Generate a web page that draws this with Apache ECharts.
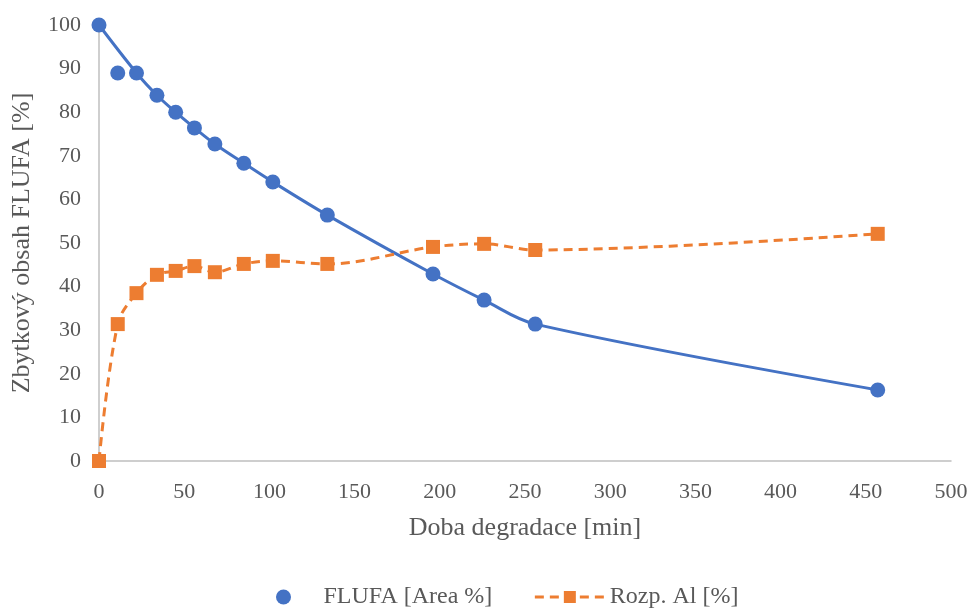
<!DOCTYPE html>
<html>
<head>
<meta charset="utf-8">
<script src="https://cdn.jsdelivr.net/npm/echarts@6/dist/echarts.min.js"></script>
<style>
  html, body { margin: 0; padding: 0; background: #fff; }
  #chart { width: 976px; height: 608px; }
</style>
</head>
<body>
<div id="chart"></div>
<script>
// Degradation time [min]
const time = [0, 11, 22, 34, 45, 56, 68, 85, 102, 134, 196, 226, 256, 457];
// Residual FLUFA content [Area %]
const flufa = [100, 89.0, 89.0, 83.9, 80.0, 76.4, 72.7, 68.3, 64.0, 56.4, 42.9, 36.9, 31.4, 16.3];
// Dissolved aluminium [%]
const rozpAl = [0, 31.4, 38.5, 42.7, 43.6, 44.7, 43.3, 45.2, 45.9, 45.2, 49.1, 49.8, 48.4, 52.1];
// FLUFA points left out of the smoothed trend curve
const trendSkip = [1];

const xTicks = [0, 50, 100, 150, 200, 250, 300, 350, 400, 450, 500];
const yTicks = [0, 10, 20, 30, 40, 50, 60, 70, 80, 90, 100];

const blue = '#4472c4';
const orange = '#ed7d31';
const textCol = '#595959';
const font = '"Liberation Serif", "Times New Roman", serif';

const flufaPts = time.map((t, i) => [t, flufa[i]]);
const flufaTrend = flufaPts.filter((p, i) => !trendSkip.includes(i));
const alPts = time.map((t, i) => [t, rozpAl[i]]);

const chart = echarts.init(document.getElementById('chart'));
chart.setOption({
  animation: false,
  textStyle: { fontFamily: font, color: textCol },
  grid: { left: 99, right: 25, top: 25, bottom: 147 },
  xAxis: {
    type: 'value',
    min: xTicks[0], max: xTicks[xTicks.length - 1], interval: 50,
    name: 'Doba degradace [min]',
    nameLocation: 'middle', nameGap: 54,
    nameTextStyle: { fontSize: 26, color: textCol, fontFamily: font },
    axisLine: { show: true, lineStyle: { color: '#bfbfbf', width: 1.5 } },
    axisTick: { show: false },
    splitLine: { show: false },
    axisLabel: { fontSize: 22, color: textCol, margin: 20, fontFamily: font }
  },
  yAxis: {
    type: 'value',
    min: yTicks[0], max: yTicks[yTicks.length - 1], interval: 10,
    name: 'Zbytkový obsah FLUFA [%]',
    nameLocation: 'middle', nameGap: 64,
    nameTextStyle: { fontSize: 26, color: textCol, fontFamily: font },
    axisLine: { show: true, lineStyle: { color: '#bfbfbf', width: 1.5 } },
    axisTick: { show: false },
    splitLine: { show: false },
    axisLabel: { fontSize: 22, color: textCol, margin: 18, fontFamily: font }
  },
  legend: {
    top: 580, left: 271,
    itemGap: 41,
    itemWidth: 70, itemHeight: 15,
    textStyle: { fontSize: 24, color: textCol, fontFamily: font },
    lineStyle: { width: 3, type: [9, 6] },
    data: [
      { name: 'FLUFA [Area %]', icon: 'circle' },
      { name: 'Rozp. Al [%]' }
    ]
  },
  series: [
    {
      name: 'FLUFA trend',
      type: 'line',
      data: flufaTrend,
      smooth: 0.35,
      showSymbol: false,
      symbol: 'none',
      lineStyle: { color: blue, width: 3 },
      z: 2
    },
    {
      name: 'Rozp. Al [%]',
      type: 'line',
      data: alPts,
      smooth: 0.35,
      symbol: 'rect',
      symbolSize: 14,
      itemStyle: { color: orange },
      lineStyle: { color: orange, width: 3, type: [9, 6] },
      z: 3
    },
    {
      name: 'FLUFA [Area %]',
      type: 'scatter',
      data: flufaPts,
      symbol: 'circle',
      symbolSize: 15,
      itemStyle: { color: blue, opacity: 1 },
      z: 4
    }
  ]
});
</script>
</body>
</html>
